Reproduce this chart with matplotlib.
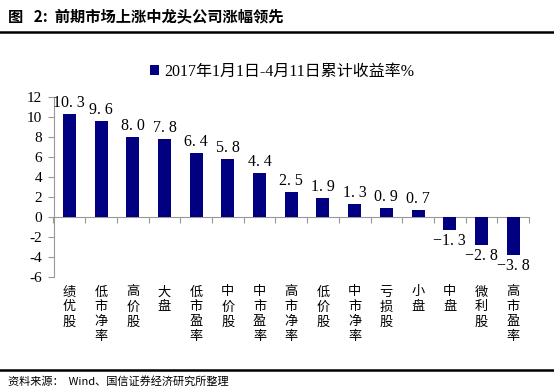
import matplotlib.pyplot as plt
from matplotlib.transforms import blended_transform_factory

plt.rcParams['font.family'] = ['Liberation Serif', 'Noto Sans CJK SC', 'DejaVu Sans']

categories = ['绩优股', '低市净率', '高价股', '大盘', '低市盈率', '中价股', '中市盈率',
              '高市净率', '低价股', '中市净率', '亏损股', '小盘', '中盘', '微利股', '高市盈率']
returns = [10.3, 9.6, 8.0, 7.8, 6.4, 5.8, 4.4, 2.5, 1.9, 1.3, 0.9, 0.7, -1.3, -2.8, -3.8]
yticks = [-6, -4, -2, 0, 2, 4, 6, 8, 10, 12]
series_name = '2017年1月1日-4月11日累计收益率%'

title = '图   2:  前期市场上涨中龙头公司涨幅领先'
source = '资料来源：  Wind、国信证券经济研究所整理'

W, H = 554, 391
fig = plt.figure(figsize=(W / 100, H / 100), dpi=100)

# header and footer rules
fig.text(8 / W, 1 - 16 / H, title, fontsize=11, fontweight='bold',
         family=['Noto Sans CJK SC', 'DejaVu Sans'], va='center', ha='left')
fig.add_artist(plt.Line2D([0, 1], [1 - 32 / H] * 2, color='black', lw=1.8))
fig.add_artist(plt.Line2D([0, 1], [1 - 370 / H] * 2, color='black', lw=1.8))
fig.text(8 / W, 1 - 381 / H, source, fontsize=8,
         family=['Noto Sans CJK SC', 'DejaVu Sans'], va='center', ha='left')

left, right, top, bottom = 53.5, 529, 97, 276.5
ax = fig.add_axes([left / W, 1 - bottom / H, (right - left) / W, (bottom - top) / H])

x = list(range(len(categories)))
ax.bar(x, returns, width=0.41, color='#000080', label=series_name, zorder=3)

for xi, v in zip(x, returns):
    label = f'{v:.1f}'.replace('.', '. ').replace('-', '−')
    if v >= 0:
        ax.text(xi, v + 0.3, label, ha='center', va='bottom', fontsize=11.5)
    else:
        ax.text(xi, v - 0.3, label, ha='center', va='top', fontsize=11.5)

ax.set_xlim(-0.5, len(categories) - 0.5)
ax.set_ylim(-6, 12)
ax.set_yticks(yticks)
ax.set_yticklabels([str(t) for t in yticks], fontsize=11)
ax.tick_params(axis='y', direction='out', length=4, color='#999999', pad=4)

ax.spines['top'].set_visible(False)
ax.spines['right'].set_visible(False)
ax.spines['left'].set_color('#999999')
ax.spines['bottom'].set_position(('data', 0))
ax.spines['bottom'].set_color('#999999')
ax.set_xticks([i - 0.5 for i in range(len(categories) + 1)])
ax.set_xticklabels([])
ax.tick_params(axis='x', direction='out', length=4, color='#999999')

trans = blended_transform_factory(ax.transData, ax.transAxes)
for xi, name in zip(x, categories):
    ax.text(xi, -0.05, '\n'.join(name), transform=trans, ha='center', va='top',
            fontsize=9.5, linespacing=1.2, family=['Noto Sans CJK SC', 'DejaVu Sans'])

ax.legend(loc='upper center', bbox_to_anchor=(0.48, 1.265), frameon=False,
          fontsize=11.5, handlelength=0.6, handleheight=0.6, handletextpad=0.3)

fig.savefig('out.png', dpi=100)
